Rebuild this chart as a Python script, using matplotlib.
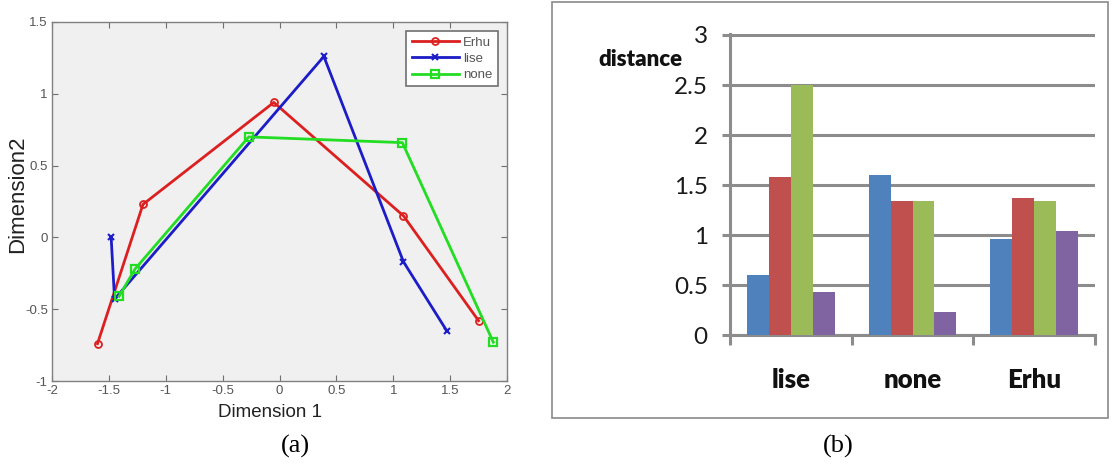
import numpy as np
import matplotlib
matplotlib.use('Agg')
import matplotlib.pyplot as plt
from matplotlib.patches import Rectangle

# (a) MDS coordinates
erhu_x = [-1.60, -1.20, -0.05, 1.09, 1.75]
erhu_y = [-0.74, 0.23, 0.94, 0.15, -0.58]
lise_x = [-1.48, -1.45, 0.39, 1.09, 1.47]
lise_y = [0.00, -0.43, 1.26, -0.17, -0.65]
none_x = [-1.41, -1.27, -0.27, 1.08, 1.88]
none_y = [-0.41, -0.22, 0.70, 0.66, -0.73]

# (b) distances
categories = ['lise', 'none', 'Erhu']
series_blue = [0.60, 1.60, 0.96]
series_red = [1.58, 1.34, 1.37]
series_green = [2.50, 1.34, 1.34]
series_purple = [0.43, 0.23, 1.04]
y_ticks_b = [0, 0.5, 1, 1.5, 2, 2.5, 3]

W, H = 1114, 465
fig = plt.figure(figsize=(W / 100, H / 100), dpi=100)
fig.patch.set_facecolor('white')

arial = ['Liberation Sans', 'DejaVu Sans']
serif = ['Liberation Serif', 'DejaVu Serif']

# ---------- (a) ----------
ax1 = fig.add_axes([52 / W, 1 - 381 / H, (507 - 52) / W, (381 - 22) / H])
ax1.set_facecolor('#f0f0f0')
ax1.plot(erhu_x, erhu_y, '-o', color='#dc2020', lw=2, ms=5,
         mfc='none', mew=1.3, label='Erhu')
ax1.plot(lise_x, lise_y, '-x', color='#1c1cc8', lw=2, ms=5,
         mew=1.5, label='lise')
ax1.plot(none_x, none_y, '-s', color='#22dd22', lw=2, ms=5.5,
         mfc='none', mew=1.6, label='none')
ax1.set_xlim(-2, 2)
ax1.set_ylim(-1, 1.5)
ax1.set_xticks(np.arange(-2, 2.01, 0.5))
ax1.set_yticks(np.arange(-1, 1.51, 0.5))
ax1.set_xticklabels(['-2', '-1.5', '-1', '-0.5', '0', '0.5', '1', '1.5', '2'],
                    family=arial)
ax1.set_yticklabels(['-1', '-0.5', '0', '0.5', '1', '1.5'], family=arial)
ax1.tick_params(direction='in', top=True, right=True, length=4,
                color='#707070', labelcolor='#555555', labelsize=9.5, pad=3)
for sp in ax1.spines.values():
    sp.set_color('#808080')
    sp.set_linewidth(1.0)
ax1.set_xlabel('Dimension 1', fontsize=13.5, color='#222222', family=arial)
ax1.set_ylabel('Dimension2', fontsize=16, color='#222222', family=arial)
ax1.xaxis.set_label_coords(0.48, -0.065)
ax1.yaxis.set_label_coords(-0.052, 0.52)
leg = ax1.legend(loc='upper right', frameon=True, fancybox=False,
                 prop={'family': arial, 'size': 9.5},
                 edgecolor='#707070', framealpha=1, handlelength=3.6,
                 borderaxespad=0.7, labelspacing=0.3, borderpad=0.4,
                 handletextpad=0.3)
leg.get_frame().set_linewidth(1.2)
for t in leg.get_texts():
    t.set_color('#555555')

fig.text(295 / W, 1 - 446 / H, '(a)', ha='center', va='center',
         fontsize=19, family=serif)

# ---------- (b) ----------
fig.patches.append(Rectangle((552 / W, 1 - 418 / H), (1108 - 552) / W,
                             (418 - 2) / H, transform=fig.transFigure,
                             facecolor='none', edgecolor='#8a8a8a', lw=1.2))

narrow = ['Lato', 'DejaVu Sans']
ax2 = fig.add_axes([730 / W, 1 - 335 / H, (1095 - 730) / W, (335 - 34) / H])
x = np.arange(len(categories))
bw = 0.18
colors = ['#4f81bd', '#c0504d', '#9bbb59', '#8064a2']
for i, (vals, c) in enumerate(zip([series_blue, series_red, series_green,
                                   series_purple], colors)):
    ax2.bar(x + (i - 1.5) * bw, vals, width=bw, color=c, zorder=3)
ax2.set_xlim(-0.5, len(categories) - 0.5)
ax2.set_ylim(0, 3.01)
ax2.set_yticks(y_ticks_b)
ax2.set_yticklabels(['0', '0.5', '1', '1.5', '2', '2.5', '3'],
                    family=narrow, fontsize=17.5, color='#1a1a1a')
ax2.yaxis.grid(True, color='#8c8c8c', lw=2.2, zorder=0)
ax2.set_axisbelow(True)
ax2.set_xticks(x)
ax2.set_xticklabels(categories, family=narrow, fontsize=18.5,
                    fontweight='heavy', color='#111111')
ax2.set_xticks(np.arange(-0.5, len(categories), 1.0), minor=True)
ax2.tick_params(axis='x', which='major', length=0, pad=24)
ax2.tick_params(axis='x', which='minor', length=7, width=2.2,
                color='#8c8c8c', direction='out')
ax2.tick_params(axis='y', length=6, width=2.2, color='#8c8c8c',
                direction='out', pad=10)
for s in ['top', 'right']:
    ax2.spines[s].set_visible(False)
for s in ['left', 'bottom']:
    ax2.spines[s].set_color('#8c8c8c')
    ax2.spines[s].set_linewidth(2.2)

fig.text(640 / W, 1 - 60 / H, 'distance', ha='center', va='center',
         fontsize=16, fontweight='heavy', family=narrow, color='#111111')

fig.text(838 / W, 1 - 446 / H, '(b)', ha='center', va='center',
         fontsize=19, family=serif)

fig.savefig('out.png', dpi=100)
